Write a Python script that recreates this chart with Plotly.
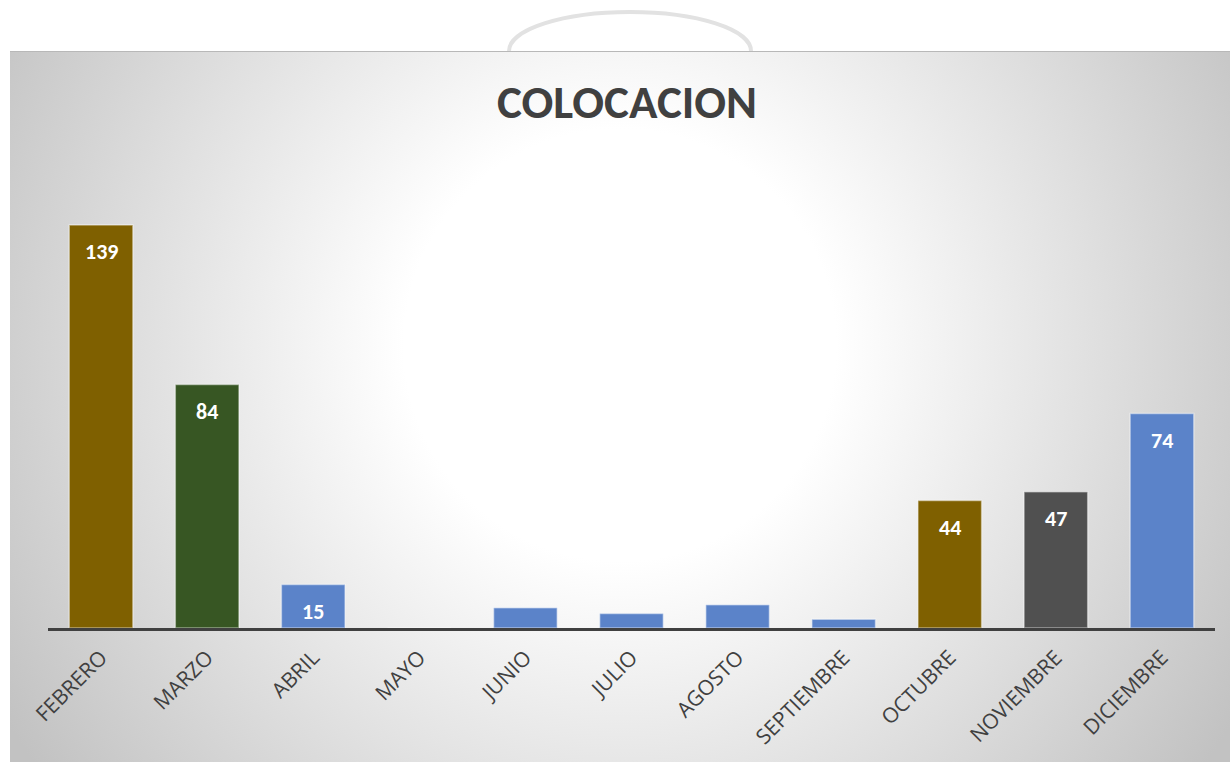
import base64
import plotly.graph_objects as go

# ---- data ----
months = ["FEBRERO", "MARZO", "ABRIL", "MAYO", "JUNIO", "JULIO", "AGOSTO",
          "SEPTIEMBRE", "OCTUBRE", "NOVIEMBRE", "DICIEMBRE"]
values = [139, 84, 15, 0, 7, 5, 8, 3, 44, 47, 74]
title_text = "COLOCACION"

# ---- styles ----
GOLD, GREEN, BLUE, GRAY = "#7F6000", "#375623", "#5B83C9", "#505050"
bar_colors = [GOLD, GREEN, BLUE, BLUE, BLUE, BLUE, BLUE, BLUE, GOLD, GRAY, BLUE]

W, H = 1230, 762
L, R, T, B = 48, 15, 80, 134
pw, ph = W - L - R, H - T - B

svg = f'''<svg xmlns="http://www.w3.org/2000/svg" width="{W}" height="{H}" viewBox="0 0 {W} {H}" preserveAspectRatio="none">
<defs><radialGradient id="g" gradientUnits="userSpaceOnUse" cx="620" cy="345" r="720">
<stop offset="0" stop-color="#ffffff"/><stop offset="0.3" stop-color="#ffffff"/>
<stop offset="1" stop-color="#c2c2c2"/></radialGradient></defs>
<rect x="0" y="0" width="{W}" height="{H}" fill="#ffffff"/>
<path d="M 509 51 A 121 39 0 0 1 751 51" stroke="#e2e2e2" stroke-width="4" fill="none"/>
<rect x="10" y="51" width="{W-10}" height="{H-51}" fill="url(#g)"/>
<line x1="10" y1="51.5" x2="{W}" y2="51.5" stroke="#b8b8b8" stroke-width="1"/>
</svg>'''
bg_src = "data:image/svg+xml;base64," + base64.b64encode(svg.encode()).decode()

fig = go.Figure()
fig.add_trace(go.Bar(
    x=months, y=values,
    marker=dict(color=bar_colors, line=dict(color="rgba(255,255,255,0.45)", width=1.5)),
    hoverinfo="x+y",
))

for m, v in zip(months, values):
    if v >= 10:
        fig.add_annotation(x=m, y=v, text=str(v), showarrow=False, yshift=-27,
                           font=dict(family="Carlito, Lato, sans-serif", size=22,
                                     color="white", weight="bold"))

fig.add_layout_image(dict(
    source=bg_src, xref="paper", yref="paper",
    x=-L / pw, y=(ph + T) / ph, sizex=W / pw, sizey=H / ph,
    xanchor="left", yanchor="top", sizing="stretch", layer="below",
))

fig.update_layout(
    width=W, height=H,
    margin=dict(l=L, r=R, t=T, b=B),
    paper_bgcolor="white", plot_bgcolor="rgba(0,0,0,0)",
    bargap=0.4, showlegend=False,
    title=dict(text=title_text, x=(627) / W, xanchor="center",
               y=1 - 102 / H, yanchor="middle", yref="container",
               font=dict(family="Carlito, Lato, sans-serif", size=47,
                         color="#404040", weight="bold")),
    xaxis=dict(showline=True, linecolor="#404040", linewidth=3, ticks="",
               tickangle=-45, showgrid=False, ticklabelstandoff=6,
               tickfont=dict(family="Open Sans, sans-serif", size=21, color="#404040")),
    yaxis=dict(range=[0, ph / 2.9], visible=False, showgrid=False, zeroline=False),
)

fig.write_html("out.html", config={"displayModeBar": False},
               post_script="document.body.style.margin='0';")
